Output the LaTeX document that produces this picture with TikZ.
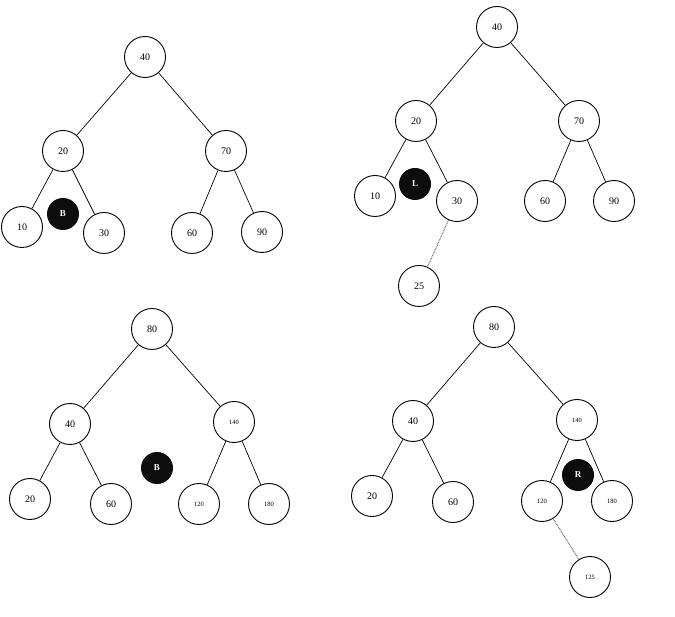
\documentclass[tikz,border=0pt]{standalone}
\usepackage{fontspec}
\setmainfont{Liberation Serif}
\begin{document}
\begin{tikzpicture}[x=1pt,y=-1pt,
  nd/.style={circle,draw,line width=0.9pt,minimum size=41pt,inner sep=0pt,font=\fontsize{10}{12}\selectfont},
  sm/.style={nd,font=\fontsize{6.5}{7}\selectfont},
  blk/.style={circle,fill=black!95,minimum size=32pt,inner sep=0pt,text=white,font=\fontsize{9}{10}\selectfont\bfseries},
  ed/.style={line width=0.7pt},
  dt/.style={line width=1.1pt,dash pattern=on 0.8pt off 0.8pt,black!55}]
\useasboundingbox (0,0) rectangle (675,617);
% Tree 1
\node[nd] (a40) at (145,57) {40};
\node[nd] (a20) at (63,151) {20};
\node[nd] (a70) at (226,151) {70};
\node[nd] (a10) at (22,227) {10};
\node[blk] (aB) at (63,214) {B};
\node[nd] (a30) at (104,233) {30};
\node[nd] (a60) at (192,233) {60};
\node[nd] (a90) at (262,232) {90};
\draw[ed] (a40)--(a20); \draw[ed] (a40)--(a70);
\draw[ed] (a20)--(a10); \draw[ed] (a20)--(a30);
\draw[ed] (a70)--(a60); \draw[ed] (a70)--(a90);
% Tree 2
\node[nd] (b40) at (497,27) {40};
\node[nd] (b20) at (416,121) {20};
\node[nd] (b70) at (579,121) {70};
\node[nd] (b10) at (375,196) {10};
\node[blk] (bL) at (415,184) {L};
\node[nd] (b30) at (457,201) {30};
\node[nd] (b60) at (545,201) {60};
\node[nd] (b90) at (614,201) {90};
\node[nd] (b25) at (419,286) {25};
\draw[ed] (b40)--(b20); \draw[ed] (b40)--(b70);
\draw[ed] (b20)--(b10); \draw[ed] (b20)--(b30);
\draw[ed] (b70)--(b60); \draw[ed] (b70)--(b90);
\draw[dt] (b30)--(b25);
% Tree 3
\node[nd] (c80) at (152,329) {80};
\node[nd] (c40) at (70,424) {40};
\node[sm] (c140) at (234,422) {140};
\node[nd] (c20) at (30,499) {20};
\node[nd] (c60) at (111,504) {60};
\node[blk] (cB) at (157,468) {B};
\node[sm] (c120) at (199,504) {120};
\node[sm] (c180) at (269,504) {180};
\draw[ed] (c80)--(c40); \draw[ed] (c80)--(c140);
\draw[ed] (c40)--(c20); \draw[ed] (c40)--(c60);
\draw[ed] (c140)--(c120); \draw[ed] (c140)--(c180);
% Tree 4
\node[nd] (d80) at (494,327) {80};
\node[nd] (d40) at (413,421) {40};
\node[sm] (d140) at (577,420) {140};
\node[nd] (d20) at (372,496) {20};
\node[nd] (d60) at (453,502) {60};
\node[blk] (dR) at (578,475) {R};
\node[sm] (d120) at (542,501) {120};
\node[sm] (d180) at (612,501) {180};
\node[sm] (d125) at (590,577) {125};
\draw[ed] (d80)--(d40); \draw[ed] (d80)--(d140);
\draw[ed] (d40)--(d20); \draw[ed] (d40)--(d60);
\draw[ed] (d140)--(d120); \draw[ed] (d140)--(d180);
\draw[dt] (d120)--(d125);
\end{tikzpicture}
\end{document}
